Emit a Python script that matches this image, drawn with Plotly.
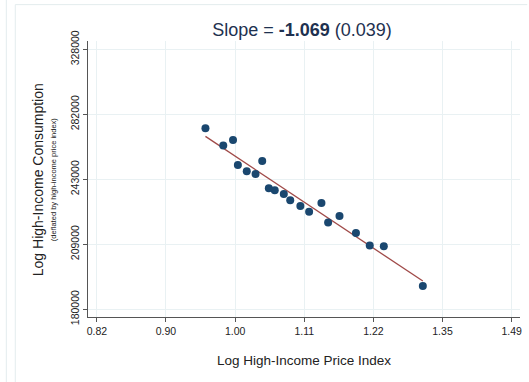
import numpy as np
import plotly.graph_objects as go

# Data (log-log scatter)
price_index = [0.958, 0.983, 0.997, 1.004, 1.017, 1.030, 1.040, 1.050, 1.059, 1.073,
               1.083, 1.099, 1.113, 1.133, 1.144, 1.163, 1.191, 1.215, 1.240, 1.312]
consumption = [273200, 262440, 265940, 250970, 247330, 245800, 253320, 237800, 236690, 234680,
               231290, 228250, 225260, 229830, 219810, 223020, 214430, 208400, 208070, 189800]

x_tick_labels = ["0.82", "0.90", "1.00", "1.11", "1.22", "1.35", "1.49"]
x_tick_logs = [-0.2, -0.1, 0.0, 0.1, 0.2, 0.3, 0.4]
y_tick_labels = ["180000", "209000", "243000", "282000", "328000"]
y_tick_logs = [12.1, 12.25, 12.4, 12.55, 12.7]

title_text = "Slope = <b>-1.069</b> (0.039)"

# Fitted line in log-log space
lx = np.log(price_index)
ly = np.log(consumption)
b, a = np.polyfit(lx, ly, 1)
fx = np.array([min(lx), max(lx)])
fit_x = np.exp(fx)
fit_y = np.exp(a + b * fx)

navy = "#1a476f"
line_col = "#a04a48"
grid_col = "#e9f1f3"
axis_col = "#555555"
text_col = "#222222"
font_family = "Liberation Sans, Arial, sans-serif"

fig = go.Figure()
fig.add_trace(go.Scatter(x=fit_x, y=fit_y, mode="lines",
                         line=dict(color=line_col, width=1.3), showlegend=False,
                         hoverinfo="skip"))
fig.add_trace(go.Scatter(x=price_index, y=consumption, mode="markers",
                         marker=dict(color=navy, size=8, line=dict(width=0)),
                         showlegend=False))

L, R, T, B = 88, 7.3, 41.3, 65.3
W, H = 529, 382
pw, ph = W - L - R, H - T - B

def px(xp):
    return (xp - L) / pw

def py(yp):
    return (H - B - yp) / ph

fig.update_layout(
    width=W, height=H,
    margin=dict(l=L, r=R, t=T, b=B),
    paper_bgcolor="white", plot_bgcolor="white",
    font=dict(family=font_family, color=text_col),
    title=dict(text=title_text, xref="container", x=302 / W, xanchor="center",
               yref="container", y=1 - 30 / H, yanchor="middle",
               font=dict(size=18, color="#1e3150", family=font_family)),
    xaxis=dict(type="log",
               range=[-0.2128 / np.log(10), 0.4121 / np.log(10)],
               tickvals=list(np.exp(x_tick_logs)), ticktext=x_tick_labels,
               showgrid=True, gridcolor=grid_col, gridwidth=1,
               zeroline=False, showline=True, linecolor=axis_col, linewidth=1,
               ticks="outside", ticklen=4, tickcolor=axis_col,
               tickfont=dict(size=10.5, color=text_col),
               title=dict(text="Log High-Income Price Index",
                          font=dict(size=13.5, color=text_col), standoff=19)),
    yaxis=dict(type="log",
               range=[12.082 / np.log(10), 12.7194 / np.log(10)],
               tickvals=list(np.exp(y_tick_logs)), ticktext=y_tick_labels,
               tickangle=-90,
               showgrid=True, gridcolor=grid_col, gridwidth=1,
               zeroline=False, showline=True, linecolor=axis_col, linewidth=1,
               ticks="outside", ticklen=4, tickcolor=axis_col,
               tickfont=dict(size=10.5, color=text_col)),
    annotations=[
        dict(text="Log High-Income Consumption", textangle=-90,
             x=px(38), y=py(180), xref="paper", yref="paper",
             xanchor="center", yanchor="middle", showarrow=False,
             font=dict(size=14, color=text_col)),
        dict(text="(deflated by high-income price index)", textangle=-90,
             x=px(53), y=py(180), xref="paper", yref="paper",
             xanchor="center", yanchor="middle", showarrow=False,
             font=dict(size=7.5, color=text_col)),
    ],
    shapes=[
        dict(type="line", xref="paper", yref="paper", x0=px(15), x1=px(529),
             y0=py(5), y1=py(5), line=dict(color="#e3ecee", width=1)),
        dict(type="line", xref="paper", yref="paper", x0=px(15), x1=px(15),
             y0=py(5), y1=py(382), line=dict(color="#e3ecee", width=1)),
        dict(type="line", xref="paper", yref="paper", x0=px(6), x1=px(6),
             y0=py(0), y1=py(382), line=dict(color="#e3ecee", width=1)),
    ],
)

fig.write_html("out.html")
